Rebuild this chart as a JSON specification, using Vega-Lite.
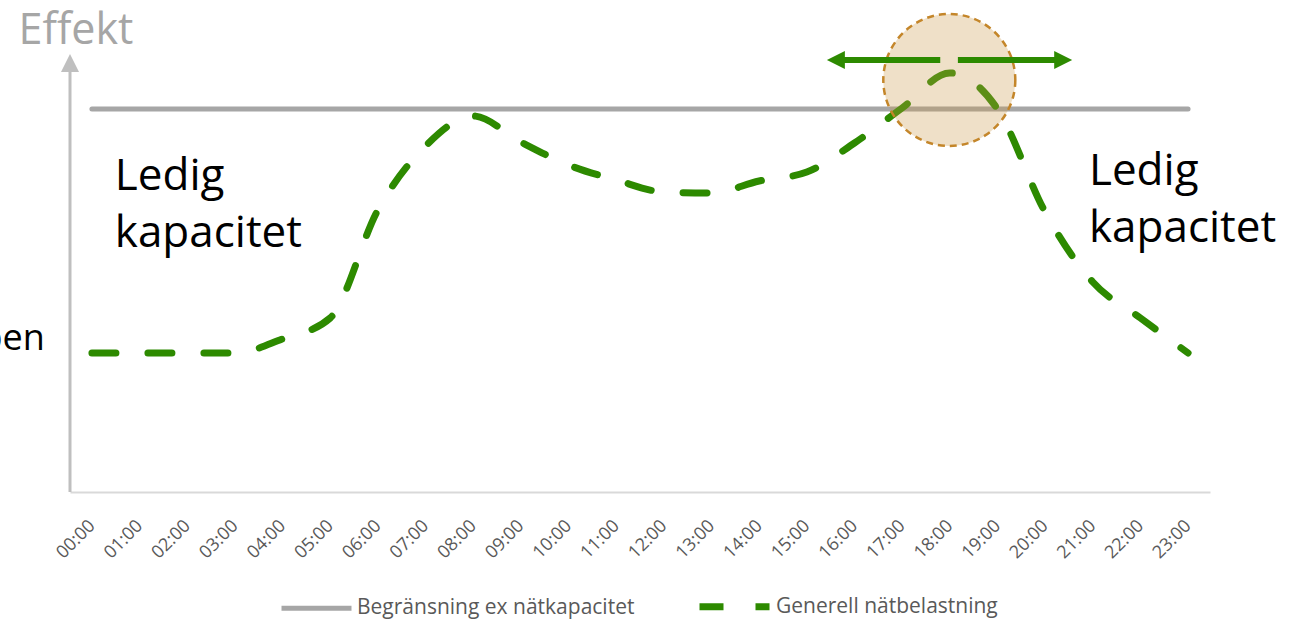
{
  "$schema": "https://vega.github.io/schema/vega-lite/v6.json",
  "width": 1140,
  "height": 492,
  "autosize": {"type": "none"},
  "padding": {"left": 70, "top": 0, "right": 89, "bottom": 130},
  "background": "white",
  "config": {
    "view": {"stroke": null},
    "font": "Open Sans"
  },
  "datasets": {
    "lines": [
      {"series": "Begränsning ex nätkapacitet", "h": 0, "v": 383},
      {"series": "Begränsning ex nätkapacitet", "h": 23, "v": 383},
      {"series": "Generell nätbelastning", "h": 0, "v": 139},
      {"series": "Generell nätbelastning", "h": 1, "v": 139},
      {"series": "Generell nätbelastning", "h": 2, "v": 139},
      {"series": "Generell nätbelastning", "h": 3, "v": 139},
      {"series": "Generell nätbelastning", "h": 4, "v": 153},
      {"series": "Generell nätbelastning", "h": 5, "v": 174},
      {"series": "Generell nätbelastning", "h": 6, "v": 282},
      {"series": "Generell nätbelastning", "h": 7, "v": 346},
      {"series": "Generell nätbelastning", "h": 8, "v": 376},
      {"series": "Generell nätbelastning", "h": 9, "v": 350},
      {"series": "Generell nätbelastning", "h": 10, "v": 327},
      {"series": "Generell nätbelastning", "h": 11, "v": 312},
      {"series": "Generell nätbelastning", "h": 12, "v": 300},
      {"series": "Generell nätbelastning", "h": 13, "v": 299},
      {"series": "Generell nätbelastning", "h": 14, "v": 311},
      {"series": "Generell nätbelastning", "h": 15, "v": 320},
      {"series": "Generell nätbelastning", "h": 16, "v": 349},
      {"series": "Generell nätbelastning", "h": 17, "v": 384},
      {"series": "Generell nätbelastning", "h": 18, "v": 419},
      {"series": "Generell nätbelastning", "h": 19, "v": 383},
      {"series": "Generell nätbelastning", "h": 20, "v": 280},
      {"series": "Generell nätbelastning", "h": 21, "v": 210},
      {"series": "Generell nätbelastning", "h": 22, "v": 174},
      {"series": "Generell nätbelastning", "h": 23, "v": 139}
    ],
    "labels": [
      {"h": 0.48, "v": 302, "t": "Ledig\nkapacitet"},
      {"h": 20.92, "v": 307, "t": "Ledig\nkapacitet"}
    ]
  },
  "encoding": {
    "x": {
      "field": "h", "type": "quantitative",
      "scale": {"domain": [-0.46, 23.46], "nice": false, "zero": false},
      "axis": {
        "title": null,
        "values": [0,1,2,3,4,5,6,7,8,9,10,11,12,13,14,15,16,17,18,19,20,21,22,23],
        "labelExpr": "(datum.value < 10 ? '0' : '') + datum.value + ':00'",
        "labelAngle": -45,
        "labelAlign": "right",
        "labelBaseline": "middle",
        "labelPadding": 31,
        "labelFontSize": 18,
        "labelColor": "#595959",
        "labelFont": "Open Sans",
        "ticks": false,
        "grid": false,
        "domainColor": "#d9d9d9",
        "domainWidth": 2,
        "labelOverlap": false,
        "labelBound": false,
        "labelFlush": false
      }
    },
    "y": {
      "field": "v", "type": "quantitative",
      "scale": {"domain": [0, 492], "nice": false, "zero": false},
      "axis": {
        "title": "Effekt",
        "titleAngle": 0,
        "titleAlign": "left",
        "titleBaseline": "alphabetic",
        "titleX": -52,
        "titleY": 43,
        "titleFontSize": 43,
        "titleFontWeight": "normal",
        "titleColor": "#a6a6a6",
        "titleFont": "Open Sans",
        "domain": false,
        "ticks": false,
        "labels": false,
        "grid": false
      }
    }
  },
  "layer": [
    {
      "data": {"name": "lines"},
      "mark": {"type": "line", "interpolate": "monotone", "strokeCap": "round"},
      "encoding": {
        "color": {
          "field": "series", "type": "nominal",
          "scale": {"domain": ["Begränsning ex nätkapacitet", "Generell nätbelastning"], "range": ["#a6a6a6", "#2d8a00"]},
          "legend": {
            "title": null,
            "orient": "none",
            "direction": "horizontal",
            "legendX": 209,
            "legendY": 568,
            "symbolType": "stroke",
            "symbolSize": 4900,
            "symbolStrokeWidth": 6,
            "labelFontSize": 21,
            "labelColor": "#595959",
            "labelFont": "Open Sans",
            "labelOffset": 3,
            "labelLimit": 500,
            "columnPadding": 50
          }
        },
        "strokeDash": {
          "field": "series", "type": "nominal",
          "scale": {"domain": ["Begränsning ex nätkapacitet", "Generell nätbelastning"], "range": [[1, 0], [24, 32]]},
          "legend": {
            "title": null,
            "orient": "none",
            "direction": "horizontal",
            "legendX": 209,
            "legendY": 568,
            "symbolType": "stroke",
            "symbolSize": 4900,
            "symbolStrokeWidth": 6,
            "labelFontSize": 21,
            "labelColor": "#595959",
            "labelFont": "Open Sans",
            "labelOffset": 3,
            "labelLimit": 500,
            "columnPadding": 50
          }
        },
        "strokeWidth": {
          "field": "series", "type": "nominal",
          "scale": {"domain": ["Begränsning ex nätkapacitet", "Generell nätbelastning"], "range": [5, 7]},
          "legend": null
        }
      }
    },
    {
      "data": {"values": [{"h": 17.99, "v": 412}]},
      "mark": {"type": "point", "shape": "circle", "size": 17424, "filled": true, "fill": "#c9984a", "fillOpacity": 0.3, "stroke": "#c4862a", "strokeOpacity": 1, "strokeWidth": 2.5, "strokeDash": [7, 5]}
    },
    {
      "data": {"values": [{"h": 15.61, "h2": 17.8, "v": 432}, {"h": 18.17, "h2": 20.38, "v": 432}]},
      "mark": {"type": "rule", "color": "#2d8a00", "strokeWidth": 6},
      "encoding": {
        "x2": {"field": "h2"}
      }
    },
    {
      "data": {"values": [{"h": 15.61, "v": 432}]},
      "mark": {"type": "point", "shape": "M-1,0L1,-1L1,1Z", "size": 324, "filled": true, "color": "#2d8a00", "opacity": 1}
    },
    {
      "data": {"values": [{"h": 20.38, "v": 432}]},
      "mark": {"type": "point", "shape": "M1,0L-1,-1L-1,1Z", "size": 324, "filled": true, "color": "#2d8a00", "opacity": 1}
    },
    {
      "data": {"values": [{"h": -0.46, "v": 0, "v2": 424}]},
      "mark": {"type": "rule", "color": "#bfbfbf", "strokeWidth": 3},
      "encoding": {
        "y2": {"field": "v2"}
      }
    },
    {
      "data": {"values": [{"h": -0.46, "v": 429}]},
      "mark": {"type": "point", "shape": "M0,-1L1,1L-1,1Z", "size": 324, "filled": true, "color": "#bfbfbf", "opacity": 1}
    },
    {
      "data": {"name": "labels"},
      "mark": {"type": "text", "align": "left", "baseline": "alphabetic", "fontSize": 44, "lineHeight": 57, "lineBreak": "\n", "color": "#000000", "font": "Open Sans"},
      "encoding": {
        "text": {"field": "t", "type": "nominal"}
      }
    },
    {
      "data": {"values": [{"h": -0.99, "v": 142, "t": "Toppen"}]},
      "mark": {"type": "text", "align": "right", "baseline": "alphabetic", "fontSize": 36, "color": "#000000", "font": "Open Sans"},
      "encoding": {
        "text": {"field": "t", "type": "nominal"}
      }
    }
  ]
}
